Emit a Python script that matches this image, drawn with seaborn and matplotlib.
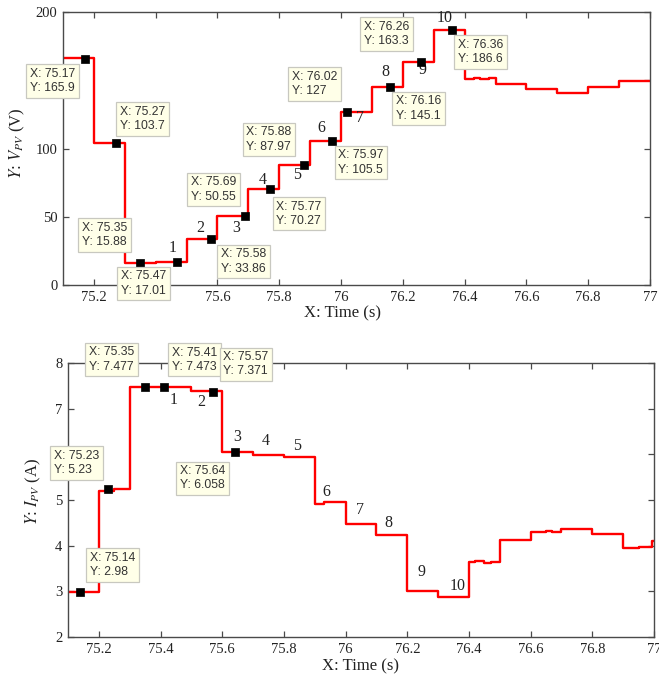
import matplotlib
matplotlib.use("Agg")
import matplotlib.pyplot as plt
import numpy as np
import pandas as pd
import seaborn as sns

# ---------------- data ----------------
# PV voltage step trace (step-post points)
vpv_time = [75.10, 75.20, 75.30, 75.40, 75.50, 75.60, 75.70, 75.80, 75.90, 76.00,
            76.10, 76.20, 76.30, 76.40, 76.43, 76.45, 76.48, 76.50, 76.53, 76.56,
            76.58, 76.60, 76.70, 76.80, 76.90, 77.00]
vpv_value = [166.0, 103.7, 15.9, 17.0, 33.9, 50.6, 70.3, 88.0, 105.5, 127.0,
             145.1, 163.3, 186.6, 150.9, 151.6, 150.9, 151.5, 147.5, 147.0, 147.6,
             146.9, 143.6, 140.9, 144.8, 149.4, 149.4]

# PV current step trace
ipv_time = [75.10, 75.20, 75.25, 75.30, 75.50, 75.60, 75.70, 75.80, 75.90, 75.93,
            76.00, 76.10, 76.20, 76.30, 76.40, 76.42, 76.45, 76.47, 76.50, 76.60,
            76.65, 76.67, 76.70, 76.80, 76.90, 76.95, 76.995, 77.00]
ipv_value = [2.98, 5.20, 5.23, 7.477, 7.38, 6.058, 5.985, 5.935, 4.92, 4.95,
             4.47, 4.23, 3.01, 2.87, 3.64, 3.67, 3.63, 3.65, 4.12, 4.31,
             4.32, 4.30, 4.37, 4.25, 3.95, 3.97, 4.10, 4.10]

# data tips
vpv_tip_x = [75.17, 75.27, 75.35, 75.47, 75.58, 75.69, 75.77, 75.88, 75.97, 76.02, 76.16, 76.26, 76.36]
vpv_tip_y = [165.9, 103.7, 15.88, 17.01, 33.86, 50.55, 70.27, 87.97, 105.5, 127, 145.1, 163.3, 186.6]
ipv_tip_x = [75.14, 75.23, 75.35, 75.41, 75.57, 75.64]
ipv_tip_y = [2.98, 5.23, 7.477, 7.473, 7.371, 6.058]

step_labels = ["1", "2", "3", "4", "5", "6", "7", "8", "9", "10"]

x_ticks = [75.2, 75.4, 75.6, 75.8, 76.0, 76.2, 76.4, 76.6, 76.8, 77.0]
x_tick_labels = ["75.2", "75.4", "75.6", "75.8", "76", "76.2", "76.4", "76.6", "76.8", "77"]
v_ticks = [0, 50, 100, 150, 200]
v_tick_labels = ["0", "50", "100", "150", "200"]
i_ticks = [2, 3, 4, 5, 6, 7, 8]
i_tick_labels = ["2", "3", "4", "5", "6", "7", "8"]

# ---------------- layout / style (not data) ----------------
# box top-left offsets from each marker in pixels (right, down)
vpv_tip_offsets = [(-58, 6), (1, -41), (-62, -45), (-60, 5), (6, 6), (-58, -43), (3, 8),
                   (-61, -42), (3, 5), (-59, -44), (2, 5), (-61, -45), (2, 5)]
ipv_tip_offsets = [(6, -44), (-58, -43), (-60, -44), (5, -44), (7, -44), (-58, 10)]
vpv_label_pos = [(75.454, 27), (75.544, 41.7), (75.66, 41.8), (75.747, 76.9), (75.859, 80.6),
                 (75.936, 115), (76.061, 122), (76.142, 156.3), (76.265, 157.5), (76.335, 195.4)]
ipv_label_pos = [(75.442, 7.19), (75.533, 7.15), (75.649, 6.37), (75.741, 6.30), (75.844, 6.18),
                 (75.936, 5.17), (76.047, 4.78), (76.138, 4.50), (76.245, 3.42), (76.364, 3.12)]

sns.set_style("ticks")
plt.rcParams['font.family'] = ['Liberation Serif', 'DejaVu Serif']
plt.rcParams['mathtext.fontset'] = 'stix'

fig = plt.figure(figsize=(6.59, 6.75), dpi=100)
fig.patch.set_facecolor("white")
ax1 = fig.add_axes([63 / 659, 1 - 285 / 675, (650 - 63) / 659, (285 - 12) / 675])
ax2 = fig.add_axes([68 / 659, 1 - 637 / 675, (654 - 68) / 659, (637 - 363) / 675])

df_v = pd.DataFrame({"t": vpv_time, "v": vpv_value})
df_i = pd.DataFrame({"t": ipv_time, "i": ipv_value})
tips_v = pd.DataFrame({"t": vpv_tip_x, "v": vpv_tip_y})
tips_i = pd.DataFrame({"t": ipv_tip_x, "i": ipv_tip_y})

SPINE = "#4a4a4a"
tipbox = dict(boxstyle="square,pad=0.3", fc="#FFFFE8", ec="#C8C8C0", lw=0.9)


def draw(ax, df, ycol, tips, offsets, labels_pos, ylim, yticks, yticklabels, ylabel,
         ylab_x, ylab_y, xlab_x, xlab_y):
    sns.lineplot(data=df, x="t", y=ycol, ax=ax, color="#FF0000", lw=1.7,
                 drawstyle="steps-post", sort=False, estimator=None, zorder=2)
    sns.scatterplot(data=tips, x="t", y=ycol, ax=ax, marker="s", s=36, color="black",
                    edgecolor="black", linewidth=0.5, zorder=4)
    for (x, y), (dx, dy) in zip(zip(tips["t"], tips[ycol]), offsets):
        ax.annotate(f"X: {x:g}\nY: {y:g}", xy=(x, y), xycoords="data",
                    xytext=(dx + 3.5, -(dy + 3.5)), textcoords="offset pixels",
                    ha="left", va="top", fontsize=8.8, color="#333333",
                    family=["Liberation Sans", "DejaVu Sans"], linespacing=1.25,
                    bbox=tipbox, zorder=5, annotation_clip=False)
    for lab, (x, y) in zip(step_labels, labels_pos):
        ax.text(x, y, lab, ha="center", va="center", fontsize=11.5, color="#222222", zorder=3)
    ax.set_xlim(75.1, 77.0)
    ax.set_ylim(*ylim)
    ax.set_xticks(x_ticks)
    ax.set_xticklabels(x_tick_labels)
    ax.set_yticks(yticks)
    ax.set_yticklabels(yticklabels)
    ax.tick_params(direction="in", top=True, right=True, length=4, width=0.9,
                   labelsize=10.5, colors=SPINE, labelcolor="#222222", pad=4)
    for s in ax.spines.values():
        s.set_color(SPINE)
        s.set_linewidth(1.0)
        s.set_visible(True)
    ax.set_xlabel("X: Time (s)", fontsize=12, color="#222222")
    ax.set_ylabel(ylabel, fontsize=12, color="#222222")
    ax.yaxis.set_label_coords(ylab_x, ylab_y)
    ax.xaxis.set_label_coords(xlab_x, xlab_y)


draw(ax1, df_v, "v", tips_v, vpv_tip_offsets, vpv_label_pos, (0, 200), v_ticks, v_tick_labels,
     r"$Y$: $V_{PV}$ (V)", -0.062, 0.52, 0.477, -0.075)
draw(ax2, df_i, "i", tips_i, ipv_tip_offsets, ipv_label_pos, (2, 8), i_ticks, i_tick_labels,
     r"$Y$: $I_{PV}$ (A)", -0.042, 0.53, 0.5, -0.078)

fig.savefig("out.png", dpi=100)
